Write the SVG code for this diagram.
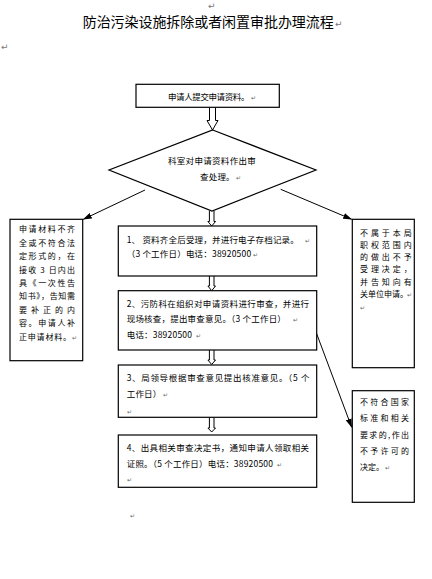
<svg xmlns="http://www.w3.org/2000/svg" width="432" height="579" viewBox="0 0 432 579">
<defs>
<style>
.bx{fill:#fff;stroke:#000;stroke-width:1.2}
.ha{fill:#fff;stroke:#000;stroke-width:1}
.ln{fill:none;stroke:#000;stroke-width:1}
.t{font-family:"Noto Sans CJK SC","Liberation Sans",sans-serif;font-size:8.5px;fill:#000;letter-spacing:0.2px}
.s{font-family:"Noto Sans CJK SC","Liberation Sans",sans-serif;font-size:8px;fill:#000}
.ttl{font-family:"Noto Sans CJK SC","Liberation Sans",sans-serif;font-size:14px;fill:#000}
.pm{font-family:"DejaVu Sans",sans-serif;font-size:6px;fill:#666}
.pmb{font-family:"DejaVu Sans",sans-serif;font-size:9px;fill:#777}
</style>
<marker id="ah" markerWidth="9" markerHeight="6" refX="8.5" refY="3" orient="auto" markerUnits="userSpaceOnUse">
<path d="M0,0 L9,3 L0,6 Z" fill="#000"/>
</marker>
</defs>
<rect width="432" height="579" fill="#fff"/>
<text class="pmb" x="208" y="9">↵</text>
<text class="ttl" x="82.7" y="26.5" textLength="251" lengthAdjust="spacing">防治污染设施拆除或者闲置审批办理流程</text>
<text class="pmb" x="335" y="27">↵</text>
<text class="pmb" x="1" y="50">↵</text>

<g id="connectors">
<path class="ha" d="M209.5,107.3 V120.5 H207 L212.5,130 L218,120.5 H215.5 V107.3"/>
<path class="ha" d="M209.4,211 V221.5 H207.9 L211.7,226 L215.5,221.5 H214 V211"/>
<path class="ha" d="M209.4,276 V286 H207.9 L211.7,290.7 L215.5,286 H214 V276"/>
<path class="ha" d="M209.4,350 V360 H207.9 L211.7,364.5 L215.5,360 H214 V350"/>
<path class="ha" d="M209.4,417.3 V428 H207.9 L211.7,432 L215.5,428 H214 V417.3"/>
<line class="ln" x1="145" y1="190" x2="83.3" y2="219.3" marker-end="url(#ah)"/>
<line class="ln" x1="280.7" y1="189.3" x2="351.7" y2="219.3" marker-end="url(#ah)"/>
<line class="ln" x1="316" y1="332" x2="351.7" y2="427.3" marker-end="url(#ah)"/>
</g>

<g id="n-submit">
<rect class="bx" x="136" y="84.3" width="143.3" height="23"/>
<text class="t" x="168" y="99.7" style="letter-spacing:-0.4px">申请人提交申请资料。<tspan class="pm" dx="2">↵</tspan></text>
</g>

<g id="n-decision">
<polygon class="bx" points="212.7,130 316,170 212,211 109,170"/>
<text class="t" x="168" y="163.7" textLength="88" lengthAdjust="spacing">科室对申请资料作出审</text>
<text class="t" x="200" y="179.7">查处理。</text>
<text class="pm" x="236" y="179.7">↵</text>
</g>

<g id="n-reject-incomplete">
<rect class="bx" x="10" y="219.3" width="72.7" height="141.4"/>
<text class="s" x="19" y="232.3" textLength="56" lengthAdjust="spacing">申请材料不齐</text>
<text class="s" x="19" y="245.7" textLength="56" lengthAdjust="spacing">全或不符合法</text>
<text class="s" x="19" y="259.1" textLength="56" lengthAdjust="spacing">定形式的，在</text>
<text class="s" x="19" y="272.5" textLength="56" lengthAdjust="spacing">接收 3 日内出</text>
<text class="s" x="19" y="285.9" textLength="56" lengthAdjust="spacing">具《一次性告</text>
<text class="s" x="19" y="299.3" textLength="56" lengthAdjust="spacing">知书》，告知需</text>
<text class="s" x="19" y="312.7" textLength="56" lengthAdjust="spacing">要补正的内</text>
<text class="s" x="19" y="326.1" textLength="56" lengthAdjust="spacing">容。申请人补</text>
<text class="s" x="19" y="339.5" textLength="52" lengthAdjust="spacing">正申请材料。</text>
<text class="pm" x="72" y="339.5">↵</text>
</g>

<g id="n-step1">
<rect class="bx" x="118.3" y="226" width="198.4" height="50"/>
<text class="t" x="126.7" y="243">1、 资料齐全后受理，并进行电子存档记录。</text>
<text class="pm" x="305" y="243">↵</text>
<text class="t" x="126.7" y="257.3">（3 个工作日）电话：38920500</text>
<text class="pm" x="253" y="257.3">↵</text>
</g>

<g id="n-step2">
<rect class="bx" x="118.3" y="290.7" width="198.4" height="59.3"/>
<text class="t" x="126.7" y="307.3" textLength="182.6" lengthAdjust="spacing">2、污防科在组织对申请资料进行审查，并进行</text>
<text class="t" x="126.7" y="322.3">现场核查，提出审查意见。（3 个工作日）</text>
<text class="pm" x="293" y="322.3">↵</text>
<text class="t" x="126.7" y="338">电话：38920500</text>
<text class="pm" x="196" y="338">↵</text>
</g>

<g id="n-step3">
<rect class="bx" x="118.3" y="365" width="198.4" height="52.3"/>
<text class="t" x="126.7" y="381.3" textLength="183" lengthAdjust="spacing">3、局领导根据审查意见提出核准意见。（5 个</text>
<text class="t" x="126.7" y="397">工作日）</text>
<text class="pm" x="163" y="397">↵</text>
<text class="pm" x="127" y="414">↵</text>
</g>

<g id="n-step4">
<rect class="bx" x="118.3" y="435" width="198.4" height="52.3"/>
<text class="t" x="126.7" y="451.3" textLength="182.6" lengthAdjust="spacing">4、出具相关审查决定书，通知申请人领取相关</text>
<text class="t" x="126.7" y="467">证照。（5 个工作日）电话：38920500</text>
<text class="pm" x="277" y="467">↵</text>
<text class="pm" x="127" y="482.3">↵</text>
</g>

<g id="n-out-of-scope">
<rect class="bx" x="352.3" y="219.3" width="62" height="148.4"/>
<text class="s" x="360" y="235.7" textLength="51.7" lengthAdjust="spacing">不属于本局</text>
<text class="s" x="360" y="248" textLength="51.7" lengthAdjust="spacing">职权范围内</text>
<text class="s" x="360" y="260.3" textLength="51.7" lengthAdjust="spacing">的做出不予</text>
<text class="s" x="360" y="272.3" textLength="51.7" lengthAdjust="spacing">受理决定，</text>
<text class="s" x="360" y="284.7" textLength="51.7" lengthAdjust="spacing">并告知向有</text>
<text class="s" x="360" y="297">关单位申请。</text>
<text class="pm" x="407" y="297">↵</text>
<text class="pm" x="360" y="309.7">↵</text>
</g>

<g id="n-noncompliant">
<rect class="bx" x="352.3" y="390.7" width="62" height="111.6"/>
<text class="s" x="360" y="405" textLength="49" lengthAdjust="spacing">不符合国家</text>
<text class="s" x="360" y="421" textLength="49" lengthAdjust="spacing">标准和相关</text>
<text class="s" x="360" y="437.5" textLength="49" lengthAdjust="spacing">要求的,作出</text>
<text class="s" x="360" y="453.5" textLength="49" lengthAdjust="spacing">不予许可的</text>
<text class="s" x="360" y="469.5">决定。</text>
<text class="pm" x="385" y="469.5">↵</text>
</g>

<text class="pm" x="130" y="518">↵</text>
</svg>
